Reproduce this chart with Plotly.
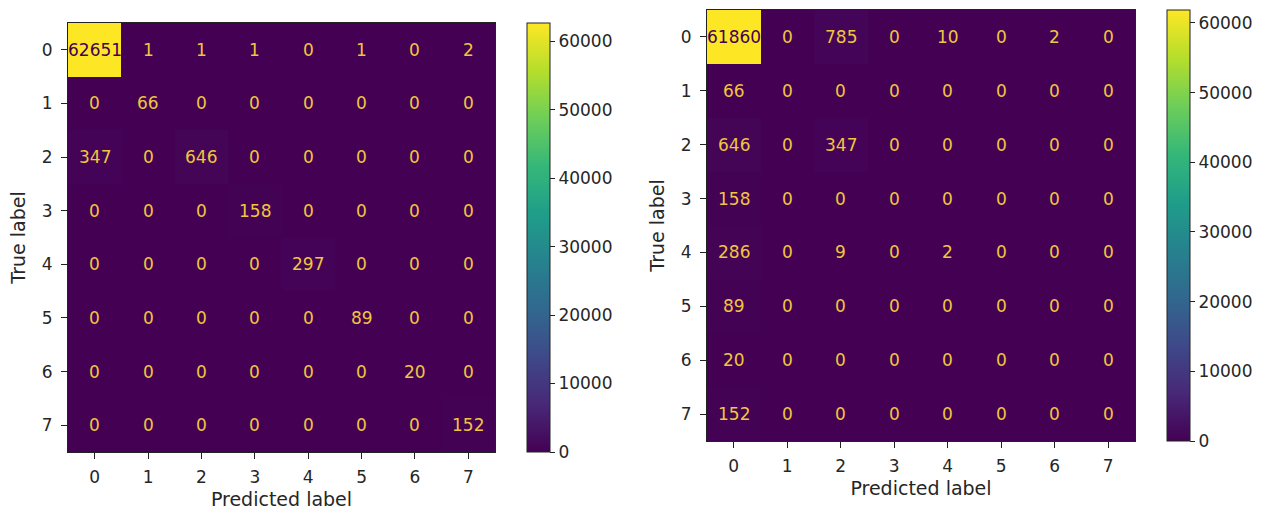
import plotly.graph_objects as go

labels = [0, 1, 2, 3, 4, 5, 6, 7]
cbar_ticks = [0, 10000, 20000, 30000, 40000, 50000, 60000]

cm_left = [
    [62651, 1, 1, 1, 0, 1, 0, 2],
    [0, 66, 0, 0, 0, 0, 0, 0],
    [347, 0, 646, 0, 0, 0, 0, 0],
    [0, 0, 0, 158, 0, 0, 0, 0],
    [0, 0, 0, 0, 297, 0, 0, 0],
    [0, 0, 0, 0, 0, 89, 0, 0],
    [0, 0, 0, 0, 0, 0, 20, 0],
    [0, 0, 0, 0, 0, 0, 0, 152],
]

cm_right = [
    [61860, 0, 785, 0, 10, 0, 2, 0],
    [66, 0, 0, 0, 0, 0, 0, 0],
    [646, 0, 347, 0, 0, 0, 0, 0],
    [158, 0, 0, 0, 0, 0, 0, 0],
    [286, 0, 9, 0, 2, 0, 0, 0],
    [89, 0, 0, 0, 0, 0, 0, 0],
    [20, 0, 0, 0, 0, 0, 0, 0],
    [152, 0, 0, 0, 0, 0, 0, 0],
]

W, H = 1267, 514
FONT = "DejaVu Sans"
FS = 17      # digits
FS_T = 19    # axis titles
TXT = "#262626"
HI = "#efc63e"
LO = "#440154"

def px_x(p):
    return p / W

def px_y(p):
    return 1 - p / H

# panel geometry in pixels: (left, right, top, bottom, cbar_left)
panels = [
    (68, 495, 23, 452, 527),
    (707, 1135, 10, 441, 1167),
]

fig = go.Figure()
annotations = []
mats = [cm_left, cm_right]
for i, (cm, (l, r, t, b, cl)) in enumerate(zip(mats, panels)):
    ax = "" if i == 0 else str(i + 1)
    zmax = max(max(row) for row in cm)
    fig.add_trace(go.Heatmap(
        z=cm, x=labels, y=labels,
        colorscale="Viridis", zmin=0, zmax=zmax,
        xaxis="x" + ax, yaxis="y" + ax,
        xgap=0, ygap=0,
        hoverinfo="skip",
        colorbar=dict(
            x=px_x(cl), xanchor="left", xpad=0,
            y=px_y(b), yanchor="bottom", ypad=0,
            len=(b - t) / H, lenmode="fraction",
            thickness=23, thicknessmode="pixels",
            outlinewidth=1, outlinecolor="#222",
            tickvals=cbar_ticks, tickformat="d",
            ticks="outside", ticklen=5, tickcolor="#222",
            tickfont=dict(family=FONT, size=FS, color=TXT),
        ),
    ))
    fig.update_layout(**{
        "xaxis" + ax: dict(
            domain=[px_x(l), px_x(r)], anchor="y" + ax,
            range=[-0.5, 7.5], tickvals=labels,
            ticks="outside", ticklen=6, tickcolor="#222",
            ticklabelstandoff=4,
            showline=True, mirror=True, linecolor="#222", linewidth=1,
            showgrid=False, zeroline=False,
            tickfont=dict(family=FONT, size=FS, color=TXT),
            title=dict(text="Predicted label", standoff=6,
                       font=dict(family=FONT, size=FS_T, color=TXT)),
        ),
        "yaxis" + ax: dict(
            domain=[px_y(b), px_y(t)], anchor="x" + ax,
            range=[7.5, -0.5], tickvals=labels,
            ticks="outside", ticklen=6, tickcolor="#222",
            ticklabelstandoff=5,
            showline=True, mirror=True, linecolor="#222", linewidth=1,
            showgrid=False, zeroline=False,
            tickfont=dict(family=FONT, size=FS, color=TXT),
            title=dict(text="True label", standoff=11,
                       font=dict(family=FONT, size=FS_T, color=TXT)),
        ),
    })
    for ri, row in enumerate(cm):
        for ci, v in enumerate(row):
            annotations.append(dict(
                x=labels[ci], y=labels[ri], xref="x" + ax, yref="y" + ax,
                text=str(v), showarrow=False,
                font=dict(family=FONT, size=FS, color=LO if v > zmax / 2 else HI),
            ))

fig.update_layout(
    width=W, height=H,
    margin=dict(l=0, r=0, t=0, b=0),
    paper_bgcolor="white", plot_bgcolor="white",
    annotations=annotations,
    showlegend=False,
)

fig.write_html("out.html")
